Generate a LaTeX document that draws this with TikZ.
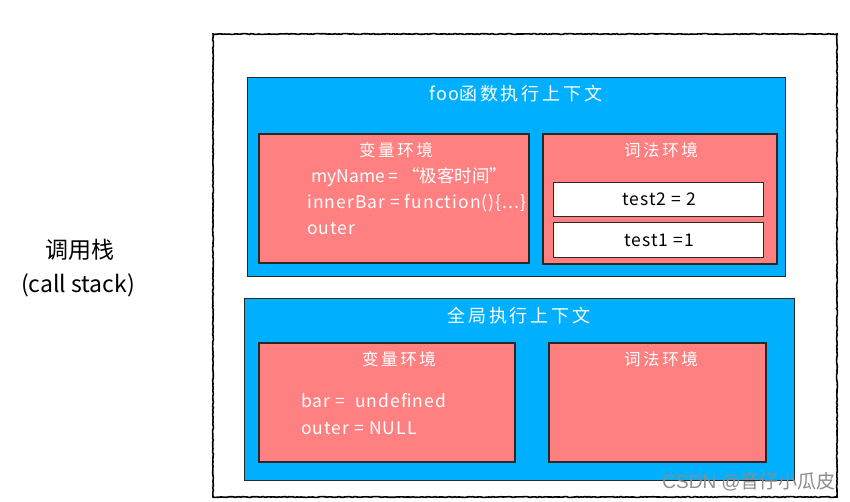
\documentclass[tikz,border=0pt]{standalone}
\usepackage{fontspec}
\setmainfont{Noto Sans CJK SC}
\newfontfamily\spacedcjk[LetterSpace=16]{Noto Sans CJK SC}
\newfontfamily\codefont[LetterSpace=6]{Noto Sans CJK SC}
\newfontfamily\wmlatin{Liberation Sans}
\usetikzlibrary{decorations.pathmorphing}
\definecolor{ctxblue}{RGB}{0,176,255}
\definecolor{envred}{RGB}{255,128,128}
\definecolor{edge}{RGB}{40,40,40}
\tikzset{
  ctxbox/.style={fill=ctxblue,draw=edge,line width=0.9pt},
  envbox/.style={fill=envred,draw=edge,line width=1.1pt},
  cellbox/.style={fill=white,draw=edge,line width=0.7pt},
  ttl/.style={text=white,font=\spacedcjk\fontsize{18}{20}\selectfont,inner sep=0pt},
  sub/.style={text=white,font=\spacedcjk\fontsize{16.5}{18}\selectfont,inner sep=0pt},
  code/.style={text=white,font=\codefont\fontsize{17.5}{19}\selectfont,inner sep=0pt,anchor=west},
  cell/.style={text=black,font=\codefont\fontsize{17.5}{19}\selectfont,inner sep=0pt},
  side/.style={text=black,font=\fontsize{23}{26}\selectfont,inner sep=0pt}
}
\begin{document}
\begin{tikzpicture}[x=1pt,y=-1pt]
\useasboundingbox[fill=white] (0,0) rectangle (850,501);
% outer call stack frame
\draw[line width=1.6pt,black,decorate,decoration={random steps,segment length=2pt,amplitude=0.45pt}]
  (213,34) rectangle (837,497);
% foo context
\draw[ctxbox] (247,77) rectangle (785,276);
\node[ttl] (footitle) at (516,94) {{\codefont foo}函数执行上下文};
\draw[envbox] (259,134) rectangle (529,263);
\node[sub] (foovar) at (396,150) {变量环境};
\node[code,font=\fontsize{17.5}{19}\selectfont] (myname) at (311,177) {myName = “极客时间”};
\node[code] (innerbar) at (307,203) {innerBar = function()\{...\}};
\node[code] (fooouter) at (307,229) {outer};
\draw[envbox] (543,134) rectangle (777,264);
\node[sub] (foolex) at (661,150) {词法环境};
\draw[cellbox] (553,182) rectangle (763,216);
\node[cell] (test2) at (659,199) {test2 = 2};
\draw[cellbox] (553,222) rectangle (763,257);
\node[cell] (test1) at (659,240) {test1 =1};
% global context
\draw[ctxbox] (244,298) rectangle (794,480);
\node[ttl] (gtitle) at (519,316) {全局执行上下文};
\draw[envbox] (259,343) rectangle (515,462);
\node[sub] (gvar) at (399,359) {变量环境};
\node[code] (bar) at (301,401) {bar =\ \ undefined};
\node[code] (gouter) at (301,428) {outer = NULL};
\draw[envbox] (549,343) rectangle (766,462);
\node[sub] (glex) at (661,359) {词法环境};
% side label
\node[side] (stack1) at (80,250) {调用栈};
\node[side] (stack2) at (78,285) {(call stack)};
% watermark
\node[text=black!45,font=\fontsize{19}{21}\selectfont,inner sep=0pt,anchor=east] (wm) at (836,482) {{\wmlatin CSDN @}音仔小瓜皮};
\end{tikzpicture}
\end{document}
